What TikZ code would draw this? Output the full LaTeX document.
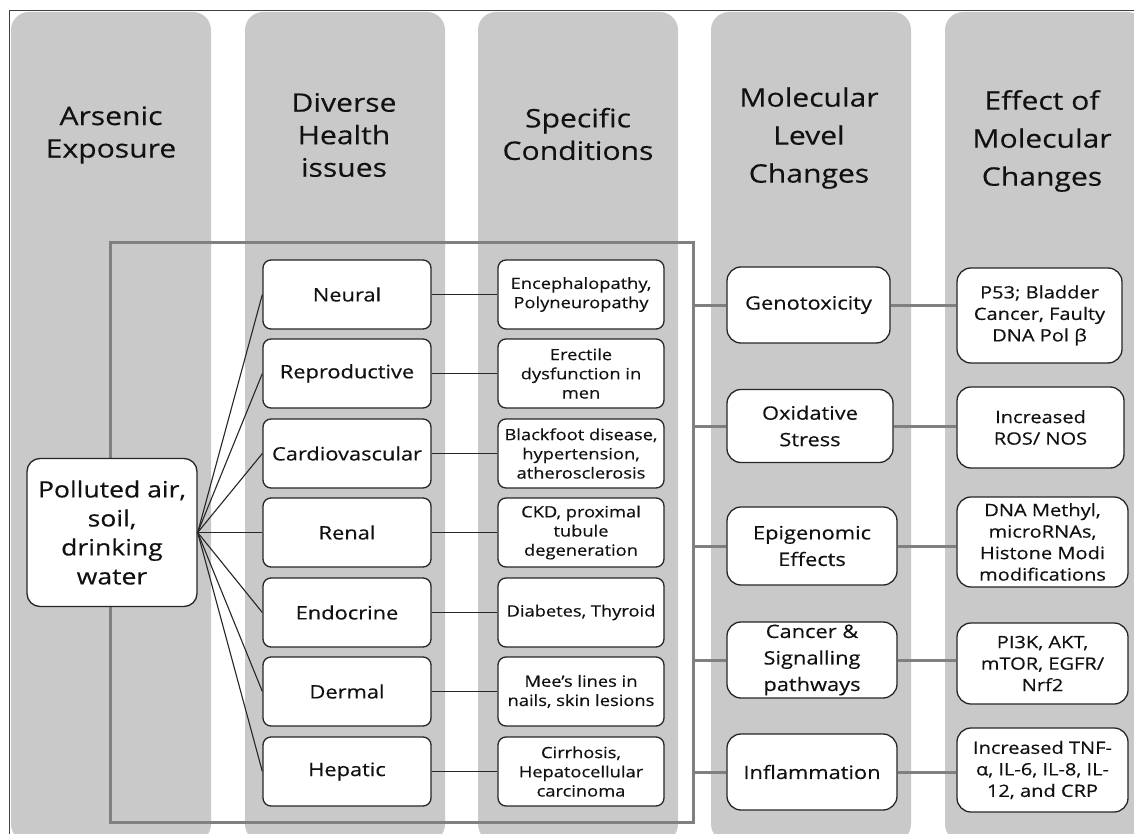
\documentclass[tikz,border=0pt]{standalone}
\usepackage{fontspec}
\setmainfont[FakeStretch=1.18,FakeBold=0.35]{Open Sans}
\definecolor{colgray}{HTML}{C9C9C9}
\definecolor{framegray}{HTML}{808080}
\definecolor{txt}{HTML}{111111}
\begin{document}
\begin{tikzpicture}[x=1pt,y=-1pt,
  col/.style={fill=colgray,draw=none,rounded corners=18pt},
  hdr/.style={font=\fontsize{25.5}{32.5}\selectfont,align=center,text=txt,inner sep=0pt},
  hdrb/.style={font=\fontsize{25.5}{38}\selectfont,align=center,text=txt,inner sep=0pt},
  box/.style={draw=black!85,fill=white,line width=1.3pt,rounded corners=8pt,align=center,text=txt,inner sep=0pt},
  hbox/.style={box,minimum width=168pt,minimum height=69pt,font=\fontsize{18.5}{22}\selectfont},
  cbox/.style={box,minimum width=166pt,minimum height=69pt,font=\fontsize{15.5}{19.2}\selectfont},
  mbox/.style={box,rounded corners=14pt,font=\fontsize{18.5}{26.5}\selectfont},
  ebox/.style={box,rounded corners=14pt,font=\fontsize{17}{21.5}\selectfont},
  pbox/.style={box,rounded corners=13pt,minimum width=170pt,minimum height=148pt,font=\fontsize{22.5}{29}\selectfont},
  thinline/.style={draw=black!85,line width=1.1pt},
  gline/.style={draw=framegray,line width=3pt},
  outer/.style={draw=black!75,line width=1pt}
]
\useasboundingbox (0,0) rectangle (1134,834);
\clip (0,0) rectangle (1134,834);
\fill[white] (0,0) rectangle (1134,834);
% columns
\fill[col] (11,12) rectangle (211,842);
\fill[col] (245,12) rectangle (445,842);
\fill[col] (478,12) rectangle (678,842);
\fill[col] (711,12) rectangle (911,842);
\fill[col] (945,12) rectangle (1145,842);
% outer border
\coordinate (bBL) at (9,840);
\coordinate (bTL) at (9,11);
\coordinate (bTR) at (1140,11);
\draw[outer] (bBL) -- (bTL) -- (bTR);
% headers
\node[hdr] (h1) at (111,135) {Arsenic\\Exposure};
\node[hdr] (h2) at (344,135) {Diverse\\Health\\issues};
\node[hdr] (h3) at (578,134) {Specific\\Conditions};
\node[hdrb] (h4) at (809,138) {Molecular\\Level\\Changes};
\node[hdrb] (h5) at (1042,141) {Effect of\\Molecular\\Changes};
% frame
\coordinate (fNW) at (110,243);
\coordinate (fSE) at (693,822);
\draw[gline] (fNW) rectangle (fSE);
% source
\node[pbox] (poll) at (112,532.5) {Polluted air,\\soil,\\drinking\\water};
% health boxes
\node[hbox] (neural) at (347,294.5) {Neural};
\node[hbox] (repro) at (347,373.5) {Reproductive};
\node[hbox] (cardio) at (347,453.5) {Cardiovascular};
\node[hbox] (renal) at (347,532.5) {Renal};
\node[hbox] (endo) at (347,612.5) {Endocrine};
\node[hbox] (dermal) at (347,691.5) {Dermal};
\node[hbox] (hepatic) at (347,771.5) {Hepatic};
% conditions
\node[cbox] (c1) at (581,294.5) {Encephalopathy,\\Polyneuropathy};
\node[cbox] (c2) at (581,373.5) {Erectile\\dysfunction in\\men};
\node[cbox] (c3) at (581,453.5) {Blackfoot disease,\\hypertension,\\atherosclerosis};
\node[cbox] (c4) at (581,532.5) {CKD, proximal\\tubule\\degeneration};
\node[cbox] (c5) at (581,612.5) {Diabetes, Thyroid};
\node[cbox] (c6) at (581,691.5) {Mee's lines in\\nails, skin lesions};
\node[cbox] (c7) at (581,771.5) {Cirrhosis,\\Hepatocellular\\carcinoma};
% molecular
\node[mbox,minimum width=163pt,minimum height=76pt] (geno) at (808.5,305) {Genotoxicity};
\node[mbox,minimum width=166pt,minimum height=73pt] (oxid) at (810,426) {Oxidative\\Stress};
\node[mbox,minimum width=170pt,minimum height=78pt] (epig) at (812,546) {Epigenomic\\Effects};
\node[mbox,minimum width=170pt,minimum height=76pt] (canc) at (812,660) {Cancer \&\\Signalling\\pathways};
\node[mbox,minimum width=170pt,minimum height=76pt] (infl) at (812,772) {Inflammation};
% effects
\node[ebox,minimum width=165pt,minimum height=95pt] (e1) at (1039.5,315.5) {P53; Bladder\\Cancer, Faulty\\DNA Pol β};
\node[ebox,minimum width=167pt,minimum height=81pt] (e2) at (1040.5,427.5) {Increased\\ROS/ NOS};
\node[ebox,minimum width=171pt,minimum height=90pt] (e3) at (1042.5,542) {DNA Methyl,\\microRNAs,\\Histone Modi\\modifications};
\node[ebox,minimum width=171pt,minimum height=81pt] (e4) at (1042.5,663.5) {PI3K, AKT,\\mTOR, EGFR/\\Nrf2};
\node[ebox,minimum width=171pt,minimum height=84pt] (e5) at (1042.5,770) {Increased TNF-\\α, IL-6, IL-8, IL-\\12, and CRP};
% fan connectors
\foreach \h in {neural,repro,cardio,renal,endo,dermal,hepatic}
  \draw[thinline] (poll.east) -- (\h.west);
% health to condition
\draw[thinline] (neural.east) -- (c1.west);
\draw[thinline] (repro.east) -- (c2.west);
\draw[thinline] (cardio.east) -- (c3.west);
\draw[thinline] (renal.east) -- (c4.west);
\draw[thinline] (endo.east) -- (c5.west);
\draw[thinline] (dermal.east) -- (c6.west);
\draw[thinline] (hepatic.east) -- (c7.west);
% frame to molecular, molecular to effects
\foreach \m/\e in {geno/e1,oxid/e2,epig/e3,canc/e4,infl/e5}{
  \draw[gline] (\m.west -| fSE) -- (\m.west);
  \draw[gline] (\m.east) -- (\m.east -| \e.west);
}
\end{tikzpicture}
\end{document}
